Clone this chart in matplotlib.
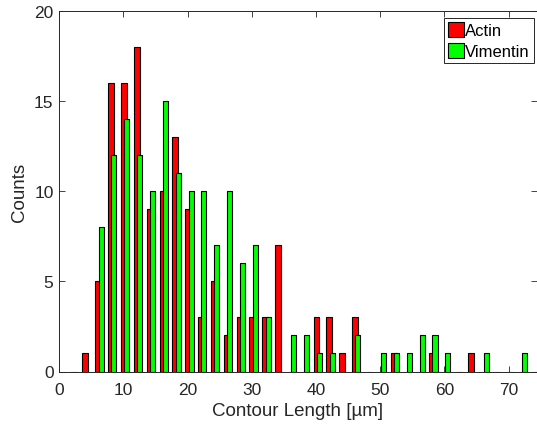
import numpy as np
import matplotlib
matplotlib.use("Agg")
import matplotlib.pyplot as plt

plt.rcParams['font.family'] = ['Liberation Sans', 'DejaVu Sans']

# Histogram bin centres (µm)
bin_centers = [2, 4, 6, 8, 10, 12, 14, 16, 18, 20, 22, 24, 26, 28, 30, 32, 34, 36, 38,
               40, 42, 44, 46, 48, 50, 52, 54, 56, 58, 60, 62, 64, 66, 68, 70, 72, 74]
actin = [0, 1, 5, 16, 16, 18, 9, 10, 13, 9, 3, 5, 2, 3, 3, 3, 7, 0, 0,
         3, 3, 1, 3, 0, 0, 1, 0, 0, 1, 0, 0, 1, 0, 0, 0, 0, 0]
vimentin = [0, 0, 8, 12, 14, 12, 10, 15, 11, 10, 10, 7, 10, 6, 7, 3, 0, 2, 2,
            1, 1, 0, 2, 0, 1, 1, 1, 2, 2, 1, 0, 0, 1, 0, 0, 1, 0]
series_labels = ["Actin", "Vimentin"]
x_ticks = [0, 10, 20, 30, 40, 50, 60, 70]
y_ticks = [0, 5, 10, 15, 20]

W, H = 537, 431
fig = plt.figure(figsize=(W / 100, H / 100), dpi=100)
ax = fig.add_axes([59.1 / W, 1 - 372.5 / H, (536.5 - 59.1) / W, (372.5 - 12.3) / H])

axis_col = '#262626'
red = '#FF0000'
green = '#00FF00'

xc = np.array(bin_centers, dtype=float)
a = np.array(actin)
v = np.array(vimentin)

ec_a = ['black' if val > 0 else red for val in a]
ec_v = ['black' if val > 0 else green for val in v]

ax.bar(xc + 0.1, a, width=0.92, color=red, edgecolor=ec_a, linewidth=0.8,
       label=series_labels[0], zorder=2)
ax.bar(xc + 0.55, v, width=0.78, color=green, edgecolor=ec_v, linewidth=0.8,
       label=series_labels[1], zorder=3)

ax.set_xlim(0, 74.36)
ax.set_ylim(0, 20)
ax.set_xticks(x_ticks)
ax.set_yticks(y_ticks)
ax.tick_params(direction='in', top=True, right=True, length=4.5, width=0.6,
               labelsize=12.5, colors=axis_col)
ax.tick_params(axis='x', pad=7.5)
ax.tick_params(axis='y', pad=4)
for s in ax.spines.values():
    s.set_color(axis_col)
    s.set_linewidth(0.7)

ax.set_xlabel("Contour Length [\u00b5m]", fontsize=13.5, color=axis_col, labelpad=4)
ax.set_ylabel("Counts", fontsize=13.5, color=axis_col, labelpad=4)

leg = ax.legend(loc='upper right', bbox_to_anchor=(0.995, 0.981), borderaxespad=0,
                fontsize=12, handlelength=1.0, handleheight=0.95, handletextpad=0.05,
                borderpad=0.25, labelspacing=0.3, fancybox=False, framealpha=1,
                edgecolor=axis_col)
leg.get_frame().set_linewidth(0.7)
for p in leg.get_patches():
    p.set_edgecolor('black')

fig.savefig("out.png", dpi=100)
